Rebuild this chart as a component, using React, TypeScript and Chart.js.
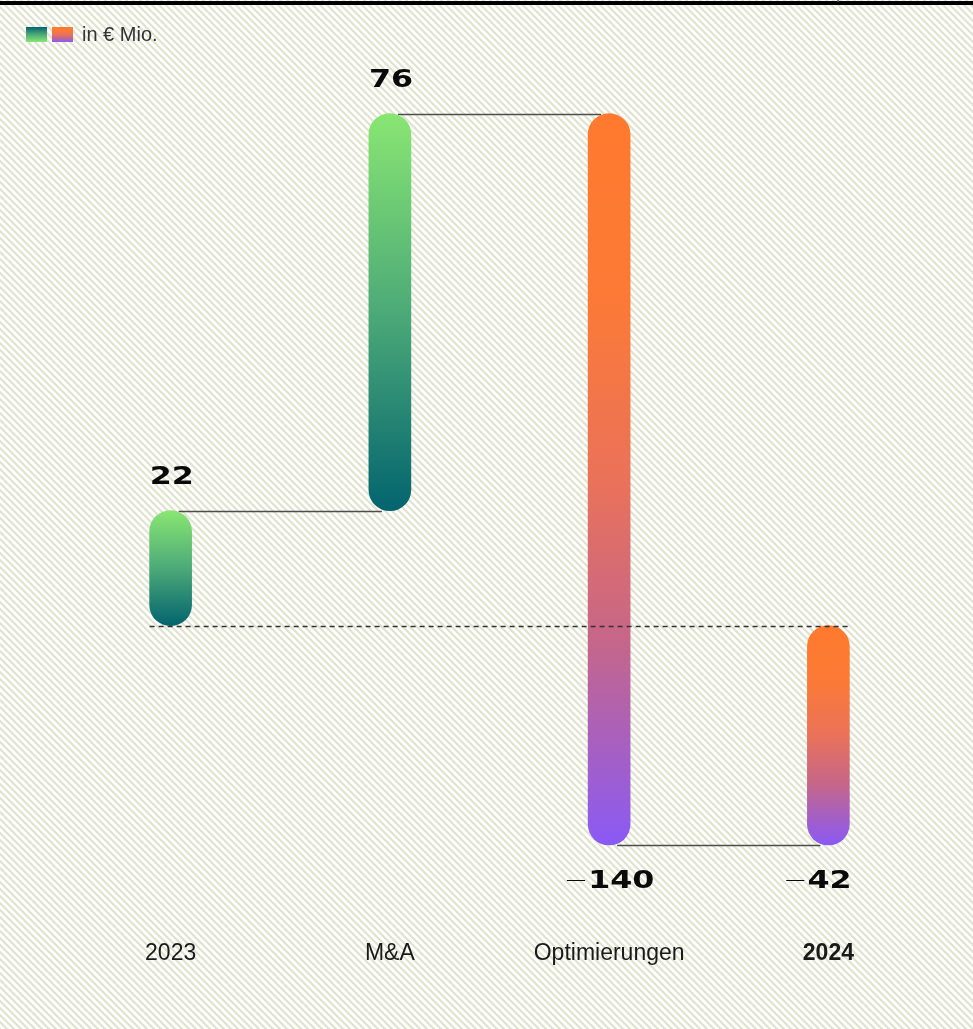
import React, { useEffect, useRef } from "react";
import { Chart, registerables } from "chart.js";

Chart.register(...registerables);

const categories = ["2023", "M&A", "Optimierungen", "2024"];
const values = [22, 76, -140, -42];
const isTotal = [true, false, false, true];
const boldCategory = [false, false, false, true];
const legendText = "in € Mio.";

const GREEN_STOPS: [number, string][] = [
  [0, "#89e672"],
  [0.5, "#4caa78"],
  [1, "#03646f"],
];
const GREEN_STOPS_REV: [number, string][] = [
  [0, "#03646f"],
  [0.5, "#4caa78"],
  [1, "#89e672"],
];
const ORANGE_STOPS: [number, string][] = [
  [0, "#ff7a2e"],
  [0.25, "#fc7a36"],
  [0.5, "#ea7259"],
  [0.72, "#c66689"],
  [1, "#8a5af5"],
];

function buildRanges(): [number, number][] {
  const out: [number, number][] = [];
  let cum = 0;
  values.forEach((v, i) => {
    if (isTotal[i]) {
      out.push([0, v]);
      cum = v;
    } else {
      out.push([cum, cum + v]);
      cum += v;
    }
  });
  return out;
}
const ranges = buildRanges();

function makeGradient(ctx: CanvasRenderingContext2D, top: number, bottom: number, stops: [number, string][]) {
  const g = ctx.createLinearGradient(0, top, 0, bottom);
  stops.forEach(([o, c]) => g.addColorStop(o, c));
  return g;
}

const bgPlugin = {
  id: "bgHatch",
  beforeDraw(chart: any) {
    const { ctx, width, height } = chart;
    const p = 7;
    const tile = document.createElement("canvas");
    tile.width = p;
    tile.height = p;
    const t = tile.getContext("2d")!;
    t.fillStyle = "#ffffff";
    t.fillRect(0, 0, p, p);
    t.strokeStyle = "#e0e3cd";
    t.lineWidth = 2.2;
    t.beginPath();
    t.moveTo(-1, -1);
    t.lineTo(p + 1, p + 1);
    t.moveTo(-1, p - 1);
    t.lineTo(1, p + 1);
    t.moveTo(p - 1, -1);
    t.lineTo(p + 1, 1);
    t.stroke();
    const pat = ctx.createPattern(tile, "repeat");
    ctx.save();
    ctx.fillStyle = pat;
    ctx.fillRect(0, 0, width, height);
    ctx.restore();
  },
};

const connectorPlugin = {
  id: "connectors",
  beforeDatasetsDraw(chart: any) {
    const { ctx } = chart;
    const meta = chart.getDatasetMeta(0);
    const y = chart.scales.y;
    ctx.save();
    ctx.strokeStyle = "#4d4d4d";
    ctx.lineWidth = 1.3;
    let cum = 0;
    for (let i = 0; i < values.length - 1; i++) {
      cum = isTotal[i] ? values[i] : cum + values[i];
      const yy = Math.round(y.getPixelForValue(cum)) + 0.5;
      const x0 = meta.data[i].x + 8;
      const x1 = meta.data[i + 1].x - 8;
      ctx.beginPath();
      ctx.moveTo(x0, yy);
      ctx.lineTo(x1, yy);
      ctx.stroke();
    }
    ctx.restore();
  },
  afterDatasetsDraw(chart: any) {
    const { ctx } = chart;
    const meta = chart.getDatasetMeta(0);
    const y = chart.scales.y;
    const first = meta.data[0];
    const last = meta.data[meta.data.length - 1];
    const y0 = Math.round(y.getPixelForValue(0)) + 0.5;
    ctx.save();
    ctx.strokeStyle = "#333333";
    ctx.lineWidth = 1.3;
    ctx.setLineDash([5, 4]);
    ctx.beginPath();
    ctx.moveTo(first.x - first.width / 2, y0);
    ctx.lineTo(last.x + last.width / 2, y0);
    ctx.stroke();
    ctx.restore();

    // value labels
    ctx.save();
    ctx.fillStyle = "#0a0a0a";
    const sx = 1.27;
    meta.data.forEach((bar: any, i: number) => {
      const top = Math.min(bar.y, bar.base);
      const bottom = Math.max(bar.y, bar.base);
      const left = bar.x - bar.width / 2;
      const v = values[i];
      const txt = String(Math.abs(v));
      const baseline = v >= 0 ? top - 27 : bottom + 43;
      ctx.save();
      ctx.translate(left, baseline);
      ctx.scale(sx, 1);
      ctx.textBaseline = "alphabetic";
      ctx.textAlign = "left";
      ctx.font = 'bold 25px "DejaVu Sans"';
      ctx.fillText(txt, 0, 0);
      ctx.restore();
      if (v < 0) {
        ctx.save();
        ctx.translate(left - 1, baseline - 1);
        ctx.scale(1.8, 1);
        ctx.font = '200 25px "DejaVu Sans"';
        ctx.textAlign = "right";
        ctx.textBaseline = "alphabetic";
        ctx.fillText("–", 0, 0);
        ctx.restore();
      }
    });
    ctx.restore();
  },
  afterDraw(chart: any) {
    const { ctx, width } = chart;
    const meta = chart.getDatasetMeta(0);
    // category labels
    ctx.save();
    ctx.fillStyle = "#1a1a1a";
    ctx.textAlign = "center";
    ctx.textBaseline = "alphabetic";
    categories.forEach((c, i) => {
      ctx.font = (boldCategory[i] ? "bold " : "") + '23px "Liberation Sans"';
      ctx.fillText(c, meta.data[i].x, 960);
    });
    ctx.restore();

    // top rule
    ctx.save();
    ctx.fillStyle = "#000000";
    ctx.fillRect(0, 1, width, 4);
    ctx.strokeStyle = "#555555";
    ctx.lineWidth = 1.5;
    ctx.beginPath();
    ctx.moveTo(838, 0);
    ctx.lineTo(838, 2);
    ctx.stroke();
    ctx.restore();

    // legend
    ctx.save();
    ctx.fillStyle = makeGradient(ctx, 27, 42, GREEN_STOPS_REV);
    ctx.fillRect(26, 27, 21, 15);
    ctx.fillStyle = makeGradient(ctx, 27, 42, ORANGE_STOPS);
    ctx.fillRect(52, 27, 21, 15);
    ctx.fillStyle = "#333333";
    ctx.font = '20px "Liberation Sans"';
    ctx.textAlign = "left";
    ctx.textBaseline = "alphabetic";
    ctx.fillText(legendText, 82, 41);
    ctx.restore();
  },
};

export default function App() {
  const ref = useRef<HTMLCanvasElement | null>(null);
  useEffect(() => {
    const canvas = ref.current!;
    const chart = new Chart(canvas, {
      type: "bar",
      data: {
        labels: categories,
        datasets: [
          {
            data: ranges as any,
            barThickness: 42,
            borderRadius: 21,
            borderSkipped: false,
            backgroundColor: (c: any) => {
              const ch = c.chart;
              const i = c.dataIndex;
              const stops = values[i] >= 0 ? GREEN_STOPS : ORANGE_STOPS;
              if (!ch.chartArea || i === undefined) return stops[0][1];
              const r = ranges[i];
              const top = ch.scales.y.getPixelForValue(Math.max(r[0], r[1]));
              const bottom = ch.scales.y.getPixelForValue(Math.min(r[0], r[1]));
              return makeGradient(ch.ctx, top, bottom, stops);
            },
          },
        ],
      },
      options: {
        responsive: false,
        animation: false,
        layout: { padding: { left: 61, right: 35, top: 51, bottom: 90 } },
        plugins: { legend: { display: false }, tooltip: { enabled: false } },
        scales: {
          x: { display: false },
          y: { display: false, min: -60, max: 110 },
        },
      },
      plugins: [bgPlugin, connectorPlugin],
    });
    return () => chart.destroy();
  }, []);
  return (
    <div style={{ position: "absolute", left: 0, top: 0, width: 973, height: 1029 }}>
      <canvas ref={ref} width={973} height={1029} style={{ display: "block" }} />
    </div>
  );
}
